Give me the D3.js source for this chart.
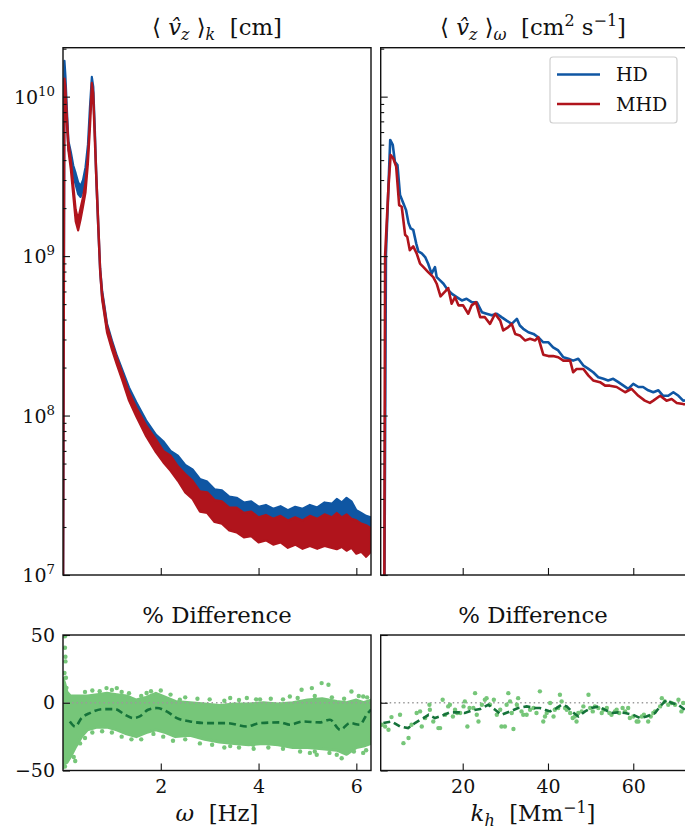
<!DOCTYPE html>
<html>
<head>
<meta charset="utf-8">
<script src="https://cdn.jsdelivr.net/npm/d3@7"></script>
<style>
  html, body { margin: 0; padding: 0; background: #fff; }
  svg text { font-family: "DejaVu Serif", serif; fill: #111; }
</style>
</head>
<body>
<div id="chart"></div>
<script>
// ---- data ----
// top-left: spectrum vs omega [Hz]; the noisy traces are kept as upper / lower envelopes
const omegaGrid = [0, 0.03, 0.05, 0.08, 0.11, 0.16, 0.21, 0.26, 0.31, 0.36, 0.41, 0.46, 0.51, 0.55, 0.59, 0.62, 0.65, 0.68, 0.72, 0.76,
  0.8, 0.9, 1.0, 1.1, 1.2, 1.35, 1.5, 1.7,
  1.9, 2.05, 2.2, 2.35, 2.5, 2.65, 2.8, 2.95, 3.1, 3.25, 3.4, 3.55, 3.7, 3.85, 4.0, 4.15, 4.3, 4.45, 4.6, 4.75, 4.9, 5.05, 5.2, 5.35, 5.5, 5.6, 5.7, 5.8, 5.9, 6.0, 6.1, 6.2, 6.3];
const hdOmegaHi = [3e6, 1.68e10, 1.35e10, 8.3e9, 5.3e9, 4.5e9, 3.7e9, 3.3e9, 2.9e9, 2.75e9, 3.0e9, 3.6e9, 5.0e9, 8.5e9, 1.33e10, 1.15e10, 6.6e9, 3.4e9, 1.65e9, 8.4e8,
  6.09e8, 3.78e8, 2.96e8, 2.38e8, 1.98e8, 1.50e8, 1.21e8, 9.34e7,
  7.6e7, 6.9e7, 6.0e7, 5.6e7, 4.9e7, 4.6e7, 4.0e7, 3.85e7, 3.45e7, 3.4e7, 3.1e7, 3.05e7, 2.85e7, 2.9e7, 2.68e7, 2.75e7, 2.6e7, 2.7e7, 2.55e7, 2.68e7, 2.6e7, 2.75e7, 2.65e7, 2.85e7, 2.8e7, 3.0e7, 2.85e7, 3.05e7, 2.9e7, 2.55e7, 2.45e7, 2.35e7, 2.3e7];
const hdOmegaLo = [3e6, 1.5e10, 1.2e10, 7.4e9, 4.7e9, 4.0e9, 3.2e9, 2.8e9, 2.45e9, 2.35e9, 2.6e9, 3.2e9, 4.5e9, 7.6e9, 1.2e10, 1.02e10, 5.9e9, 3.0e9, 1.5e9, 7.9e8,
  5.51e8, 3.47e8, 2.71e8, 2.18e8, 1.78e8, 1.34e8, 1.08e8, 8.09e7,
  6.6e7, 5.8e7, 5.2e7, 4.7e7, 4.0e7, 3.6e7, 3.25e7, 3.05e7, 2.9e7, 2.75e7, 2.6e7, 2.45e7, 2.37e7, 2.3e7, 2.24e7, 2.2e7, 2.17e7, 2.14e7, 2.11e7, 2.12e7, 2.14e7, 2.15e7, 2.17e7, 2.22e7, 2.27e7, 2.3e7, 2.3e7, 2.34e7, 2.25e7, 2.15e7, 2.08e7, 1.99e7, 1.93e7];
const mhdOmegaHi = [3e6, 1.3e10, 1.15e10, 7.5e9, 5.2e9, 4.0e9, 2.8e9, 1.95e9, 1.7e9, 2.0e9, 2.35e9, 2.9e9, 4.3e9, 7.0e9, 1.22e10, 1.05e10, 6.0e9, 3.4e9, 1.7e9, 8.4e8,
  5.92e8, 3.67e8, 2.87e8, 2.31e8, 1.89e8, 1.40e8, 1.12e8, 8.69e7,
  7.1e7, 6.0e7, 5.6e7, 4.8e7, 4.3e7, 3.9e7, 3.35e7, 3.3e7, 2.95e7, 2.9e7, 2.65e7, 2.65e7, 2.45e7, 2.5e7, 2.3e7, 2.38e7, 2.25e7, 2.35e7, 2.2e7, 2.3e7, 2.2e7, 2.35e7, 2.25e7, 2.4e7, 2.3e7, 2.45e7, 2.3e7, 2.4e7, 2.25e7, 2.2e7, 2.1e7, 2.05e7, 1.96e7];
const mhdOmegaLo = [3e6, 1.15e10, 1.02e10, 6.6e9, 4.6e9, 3.5e9, 2.4e9, 1.65e9, 1.45e9, 1.7e9, 2.05e9, 2.5e9, 3.8e9, 6.2e9, 1.1e10, 9.4e9, 5.3e9, 3.0e9, 1.5e9, 7.9e8,
  5.35e8, 3.32e8, 2.60e8, 2.09e8, 1.71e8, 1.24e8, 9.87e7, 7.42e7,
  5.9e7, 5.1e7, 4.5e7, 3.9e7, 3.3e7, 3.0e7, 2.5e7, 2.45e7, 2.15e7, 2.1e7, 1.9e7, 1.85e7, 1.72e7, 1.75e7, 1.6e7, 1.65e7, 1.55e7, 1.6e7, 1.48e7, 1.55e7, 1.46e7, 1.52e7, 1.46e7, 1.52e7, 1.48e7, 1.45e7, 1.5e7, 1.42e7, 1.48e7, 1.36e7, 1.40e7, 1.30e7, 1.40e7];

// top-right: spectrum vs k_h [Mm^-1], [k_h, value]
const hdKh = [[1.6, 5e6], [2.0, 1.04e9], [3.0, 5.35e9], [3.6, 4.98e9], [4.1, 3.91e9], [4.7, 3.73e9], [5.3, 2.42e9], [6.1, 2.14e9], [6.7, 1.95e9], [7.3, 1.61e9],
  [7.8, 1.49e9], [8.4, 1.46e9], [9.1, 1.20e9], [9.6, 1.07e9], [10.4, 1.04e9], [11.2, 9.86e8], [11.9, 8.96e8], [12.7, 7.76e8], [13.5, 8.53e8], [13.9, 7.38e8],
  [14.7, 7.04e8], [15.5, 6.71e8], [16.3, 6.25e8], [17.4, 5.81e8], [18.6, 5.53e8], [19.8, 5.27e8], [20.9, 5.40e8], [22.1, 5.14e8], [23.3, 5.14e8], [24.5, 4.45e8],
  [25.6, 4.35e8], [26.8, 4.25e8], [28.0, 4.35e8], [29.1, 4.14e8], [30.3, 3.94e8], [31.5, 3.76e8], [32.7, 4.04e8], [33.4, 3.67e8], [34.2, 3.50e8], [35.4, 3.33e8],
  [36.6, 3.25e8], [37.7, 3.10e8], [38.9, 2.88e8], [40.1, 2.88e8], [41.2, 2.68e8], [42.4, 2.56e8], [43.6, 2.32e8], [44.8, 2.27e8], [45.9, 2.21e8], [47.1, 2.27e8],
  [48.3, 2.06e8], [49.5, 1.96e8], [50.6, 1.87e8], [51.8, 1.74e8], [53.0, 1.70e8], [54.1, 1.66e8], [55.3, 1.70e8], [56.5, 1.62e8], [57.7, 1.54e8], [58.8, 1.47e8],
  [60.0, 1.58e8], [61.2, 1.51e8], [62.3, 1.51e8], [63.5, 1.44e8], [64.7, 1.40e8], [65.9, 1.44e8], [67.0, 1.33e8], [68.2, 1.33e8], [69.4, 1.40e8], [70.6, 1.33e8],
  [71.7, 1.24e8], [73.0, 1.25e8]];
const mhdKh = [[1.6, 5e6], [1.8, 1.0e9], [2.6, 2.72e9], [3.1, 4.31e9], [3.7, 4.11e9], [4.4, 3.64e9], [5.1, 2.09e9], [5.7, 2.04e9], [6.5, 1.36e9], [7.0, 1.32e9],
  [7.6, 1.09e9], [8.4, 1.15e9], [9.2, 1.04e9], [10.0, 8.96e8], [10.8, 8.53e8], [11.9, 7.94e8], [13.1, 7.38e8], [13.9, 6.71e8], [14.8, 5.59e8], [15.9, 6.00e8],
  [16.6, 6.30e8], [17.4, 5.03e8], [18.2, 5.53e8], [19.0, 4.91e8], [20.1, 4.91e8], [21.3, 4.35e8], [22.1, 4.91e8], [23.1, 5.14e8], [24.1, 4.14e8], [25.2, 4.14e8],
  [26.4, 3.76e8], [27.6, 4.35e8], [28.8, 3.94e8], [29.5, 3.42e8], [30.7, 3.59e8], [31.5, 3.76e8], [32.3, 3.25e8], [33.4, 3.18e8], [34.6, 2.96e8], [35.8, 3.03e8],
  [37.0, 2.96e8], [37.7, 3.10e8], [38.9, 2.41e8], [40.1, 2.36e8], [41.2, 2.36e8], [42.4, 2.32e8], [43.6, 2.21e8], [45.2, 2.21e8], [45.9, 1.87e8], [46.7, 1.96e8],
  [48.3, 1.96e8], [49.5, 1.78e8], [50.6, 1.66e8], [52.2, 1.62e8], [53.4, 1.54e8], [54.5, 1.54e8], [56.1, 1.51e8], [58.1, 1.40e8], [59.6, 1.47e8], [61.2, 1.33e8],
  [62.7, 1.24e8], [63.9, 1.20e8], [64.7, 1.24e8], [66.3, 1.33e8], [67.8, 1.24e8], [69.0, 1.27e8], [70.2, 1.20e8], [71.7, 1.18e8], [73.0, 1.17e8]];

// bottom-left: % difference vs omega — dense cloud kept as its envelope + stray points + running mean
const diffOmegaGrid = [0.0, 0.03, 0.08, 0.15, 0.25, 0.38, 0.5, 0.7, 0.9, 1.1, 1.3, 1.5, 1.7, 1.9, 2.1, 2.3, 2.6, 2.9, 3.2, 3.5, 3.8, 4.1, 4.4, 4.7, 5.0, 5.3, 5.6, 5.8, 6.0, 6.15, 6.3];
const diffOmegaTop = [18, 15, 8, 5, 5, 5, 5, 6, 7, 6, 5, 2, 4, 7, 4, 1, 0, -1, -2, -1, -1, 0, -1, 0, 2, 3, 1, 0, 2, 0, 2];
const diffOmegaBottom = [-48, -45, -44, -40, -33, -25, -20, -18, -18, -20, -23, -25, -22, -20, -22, -25, -24, -27, -29, -30, -31, -30, -31, -33, -33, -34, -35, -38, -33, -32, -30];
const diffOmegaStray = [[0.04, 49], [0.04, 40.6], [0.05, 34], [0.05, 30.5], [0.03, 22], [0.06, 18.5], [0.07, 11], [0.04, -47], [0.05, -42], [0.25, -43], [0.22, -40],
  [0.89, 10.8], [1.10, 10.8], [1.71, 7.2], [1.92, 4.6], [2.39, 2.2], [3.42, 3.5], [3.76, 3.5], [4.03, 2.5], [4.64, 4.6], [4.88, 9.6], [5.09, 10.8], [5.29, 14.5],
  [5.43, 13.3], [5.90, 8.3], [6.14, 4.6], [1.44, -23.6], [3.42, -32], [3.89, -31], [5.05, -37], [5.19, -38.4], [5.60, -38.4], [5.80, -37], [6.14, -37],
  [0.45, 8], [0.6, 9], [0.75, 8.5], [1.0, 9.5], [1.2, 8], [1.35, 7], [1.6, 5], [1.8, 8.5], [2.0, 9], [2.2, 6], [2.5, 4], [2.75, 3], [3.0, 2.5], [3.3, 1.5],
  [3.6, 2], [3.95, 2.5], [4.25, 3], [4.5, 2.5], [4.8, 3.5], [5.15, 5], [5.5, 4], [5.75, 3], [6.05, 5], [6.22, 4],
  [0.35, -30], [0.45, -26], [0.6, -22], [0.8, -21], [1.0, -22], [1.2, -25], [1.4, -27], [1.6, -27], [1.85, -23], [2.05, -25], [2.25, -28], [2.5, -27],
  [2.8, -30], [3.05, -31], [3.3, -33], [3.6, -33], [3.9, -34], [4.2, -33], [4.5, -34], [4.85, -36], [5.15, -36], [5.45, -37], [5.7, -41], [5.95, -36], [6.2, -35]];
const diffOmegaMean = [[0.14, -13.8], [0.25, -17.5], [0.38, -11.3], [0.55, -7.6], [0.82, -4.7], [1.06, -4.7], [1.27, -8.9], [1.44, -11.3], [1.57, -10.1], [1.74, -5.2],
  [1.92, -3.9], [2.12, -6.4], [2.33, -11.3], [2.60, -13.8], [2.94, -15], [3.35, -15], [3.76, -17.5], [4.03, -15], [4.44, -14.5], [4.64, -16.2], [4.91, -13.8],
  [5.25, -14.5], [5.46, -12.5], [5.67, -19.9], [5.87, -15], [6.07, -16.2], [6.21, -8.9], [6.3, -5]];

// bottom-right: % difference vs k_h
const diffKh = [[1.0, -16.2], [1.8, -17.5], [2.6, -19.9], [3.3, -10.6], [5.3, -8.9], [6.1, -29.8], [7.3, -26], [8.0, -16.2], [9.2, -7.6], [10.0, -6.4],
  [10.4, -17.5], [11.2, -11.3], [12.2, -1.5], [12.3, -5.2], [13.1, -13.8], [14.3, -18.7], [14.7, -18.7], [15.3, 2.2], [15.9, -8.9], [16.6, -2.7],
  [17.0, -1.5], [17.7, -10.1], [18.2, -5.2], [18.7, -7.6], [19.4, -7.6], [20.2, -2.7], [20.5, 1.0], [21.1, -17.5], [21.6, -3.9], [22.5, -3.9],
  [22.9, 7.1], [23.3, -8.9], [23.7, -13.8], [24.5, -1.5], [25.2, 2.2], [25.6, 3.4], [26.4, -1.5], [27.3, 2.2], [28.0, -8.9], [28.8, -5.2],
  [29.1, -17.5], [29.9, -17.5], [30.3, -1.5], [30.7, 7.1], [31.1, 1.0], [31.5, -7.6], [31.9, -19.4], [32.7, -1.5], [33.0, 3.4], [33.8, -6.4],
  [34.2, -8.9], [35.0, -8.9], [35.8, -5.2], [36.6, -3.9], [37.3, -7.6], [38.1, 8.4], [38.9, -13.8], [39.3, -10.1], [39.7, -7.6], [40.5, -0.2],
  [41.3, -10.1], [41.6, -5.2], [42.4, -3.9], [42.8, 5.9], [43.2, 1.0], [44.0, -3.9], [44.4, -5.2], [45.2, -7.6], [45.8, -11.3], [46.3, -10.1],
  [46.7, -13.8], [47.1, -7.6], [47.9, -6.4], [48.3, -2.7], [49.5, 5.9], [49.9, -3.9], [50.5, -6.4], [51.0, -2.7], [51.8, -3.9], [52.6, -7.6],
  [53.0, -5.2], [53.8, -3.9], [54.4, -7.6], [54.9, -8.9], [55.7, -6.4], [56.1, -5.2], [56.7, -7.6], [57.5, -3.9], [58.1, -6.4], [58.8, -3.9],
  [59.2, -11.3], [60.0, -10.1], [60.8, -13.8], [61.2, -13.8], [62.0, -10.1], [62.5, -8.9], [63.5, -13.8], [64.1, -10.1], [64.7, -7.6], [65.1, -6.4],
  [66.3, -2.7], [66.7, 3.4], [67.4, 1.0], [68.2, -1.5], [69.0, -0.2], [69.8, -1.5], [70.6, 2.2], [71.3, -6.4], [71.7, -0.2]];
const diffKhMean = [[1.4, -15], [3.3, -13.8], [5.3, -17.5], [7.2, -18.7], [8.8, -15], [10.8, -11.3], [12.0, -8.9], [13.5, -11.3], [14.7, -10.1], [17.0, -7.1],
  [19.0, -7.1], [20.5, -7.6], [22.1, -5.7], [24.1, -4.7], [26.0, -1.5], [27.6, -5.2], [29.1, -8.9], [31.1, -6.4], [33.0, -3.9], [35.0, -2.7],
  [36.9, -3.9], [38.1, -3.9], [39.3, -5.2], [40.5, -6.4], [42.0, -3.9], [43.2, -1.5], [44.4, -2.7], [45.6, -6.4], [47.1, -10.1], [48.7, -6.4],
  [50.2, -3.9], [51.8, -2.7], [53.4, -5.2], [54.9, -7.6], [56.5, -7.1], [58.1, -7.6], [60.0, -8.9], [61.6, -11.3], [63.1, -10.1], [65.1, -7.6],
  [66.3, -2.7], [67.8, 2.2], [69.0, -0.2], [70.6, -1.5], [72.1, -5.2]];

const omegaTicks = [2, 4, 6];
const khTicks = [20, 40, 60];
const logTicks = [1e7, 1e8, 1e9, 1e10];
const diffTicks = [-50, 0, 50];
const seriesNames = ["HD", "MHD"];

// ---- style ----
const COL = { hd: "#0f56a3", mhd: "#b0141c", cloud: "#76c679", mean: "#15733a", zero: "#9a9a9a" };
const FS = 19;          // ticks, legend
const FS_BIG = 22.8;    // titles, axis labels
const SP = "\u00A0";

const W = 685, H = 830;
const svg = d3.select("#chart").append("svg").attr("width", W).attr("height", H);

const LX = [63, 371], RX = [380.7, 688.7];
const TY = [47.7, 575], BY = [635, 770.5];

const xW = d3.scaleLinear().domain([0, 6.3]).range(LX);
const xK = d3.scaleLinear().domain([0.77, 73]).range(RX);
const yLog = d3.scaleLog().domain([1e7, Math.pow(10, 10.307)]).range([TY[1], TY[0]]);
const yPct = d3.scaleLinear().domain([-50, 50]).range([BY[1], BY[0]]);

const defs = svg.append("defs");
function clipped(id, xr, yr) {
  defs.append("clipPath").attr("id", id).append("rect")
    .attr("x", xr[0]).attr("y", yr[0]).attr("width", xr[1] - xr[0]).attr("height", yr[1] - yr[0]);
  return svg.append("g").attr("clip-path", `url(#${id})`);
}

// math-ish text: parts = [{t, it, sub, sup}]
function mathText(x, y, parts, fs, anchor = "middle") {
  const t = svg.append("text").attr("x", x).attr("y", y).attr("text-anchor", anchor).attr("font-size", fs);
  let off = 0;
  for (const p of parts) {
    const s = t.append("tspan").text(p.t);
    const want = p.sub ? fs * 0.22 : p.sup ? -fs * 0.36 : 0;
    if (want !== off) { s.attr("dy", want - off); off = want; }
    if (p.it) s.attr("font-style", "italic");
    if (p.sub || p.sup) s.attr("font-size", fs * 0.7);
  }
  return t;
}

function styleAxis(g) {
  g.select(".domain").remove();
  g.selectAll(".tick line").attr("stroke", "#111").attr("stroke-width", 1.1);
  g.selectAll(".tick text").attr("font-size", FS).attr("font-family", "DejaVu Serif").attr("fill", "#111");
}

function logMinor() {
  const out = [];
  for (let e = 7; e <= 10; e++) for (let m = 2; m <= 9; m++) { const v = m * Math.pow(10, e); if (v <= yLog.domain()[1]) out.push(v); }
  return out;
}

function yLogAxis(x0, labels) {
  const maj = svg.append("g").attr("transform", `translate(${x0},0)`)
    .call(d3.axisLeft(yLog).tickValues(logTicks).tickSizeInner(-7).tickSizeOuter(0).tickPadding(8).tickFormat(""));
  styleAxis(maj);
  if (labels) {
    maj.selectAll(".tick text").each(function (d) {
      const t = d3.select(this).attr("dy", "0.36em");
      t.append("tspan").text("10");
      t.append("tspan").attr("dy", -8).attr("font-size", FS * 0.7).text(Math.round(Math.log10(d)));
    });
  }
  const mn = svg.append("g").attr("transform", `translate(${x0},0)`)
    .call(d3.axisLeft(yLog).tickValues(logMinor()).tickSizeInner(-3.5).tickSizeOuter(0).tickFormat(""));
  styleAxis(mn);
}

function xAxis(scale, ticks, y, labels) {
  const g = svg.append("g").attr("transform", `translate(0,${y})`)
    .call(d3.axisBottom(scale).tickValues(ticks).tickSizeInner(-7).tickSizeOuter(0).tickPadding(9)
      .tickFormat(labels ? d3.format("d") : ""));
  styleAxis(g);
  g.selectAll(".tick text").attr("dy", "0.71em");
}

function pctAxis(x0, labels) {
  const g = svg.append("g").attr("transform", `translate(${x0},0)`)
    .call(d3.axisLeft(yPct).tickValues(diffTicks).tickSizeInner(-7).tickSizeOuter(0).tickPadding(8)
      .tickFormat(labels ? (d => d < 0 ? "\u2212" + Math.abs(d) : d) : ""));
  styleAxis(g);
}

function frame(xr, yr) {
  svg.append("rect").attr("x", xr[0]).attr("y", yr[0]).attr("width", xr[1] - xr[0]).attr("height", yr[1] - yr[0])
    .attr("fill", "none").attr("stroke", "#111").attr("stroke-width", 1.4);
}

// ---- top-left: envelopes of the omega spectra ----
const gTL = clipped("cTL", LX, TY);
const band = (hi, lo) => omegaGrid.map((w, i) => ({ w, hi: hi[i], lo: lo[i] }));
const envArea = d3.area().x(d => xW(d.w)).y0(d => yLog(d.lo)).y1(d => yLog(d.hi));
[[hdOmegaHi, hdOmegaLo, COL.hd], [mhdOmegaHi, mhdOmegaLo, COL.mhd]].forEach(([hi, lo, c]) => {
  gTL.append("path").datum(band(hi, lo)).attr("d", envArea)
    .attr("fill", c).attr("stroke", c).attr("stroke-width", 2.2).attr("stroke-linejoin", "round");
});

// ---- top-right: k_h spectra ----
const gTR = clipped("cTR", RX, TY);
const kLine = d3.line().x(d => xK(d[0])).y(d => yLog(d[1]));
[[hdKh, COL.hd], [mhdKh, COL.mhd]].forEach(([s, c]) => {
  gTR.append("path").datum(s).attr("d", kLine).attr("fill", "none").attr("stroke", c)
    .attr("stroke-width", 2.6).attr("stroke-linejoin", "round");
});

// ---- bottom-left: % difference vs omega ----
const gBL = clipped("cBL", LX, BY);
gBL.append("path").datum(diffOmegaGrid.map((w, i) => ({ w, hi: diffOmegaTop[i], lo: diffOmegaBottom[i] })))
  .attr("d", d3.area().x(d => xW(d.w)).y0(d => yPct(d.lo)).y1(d => yPct(d.hi)))
  .attr("fill", COL.cloud).attr("stroke", COL.cloud).attr("stroke-width", 3).attr("stroke-linejoin", "round");
gBL.selectAll("circle").data(diffOmegaStray).join("circle")
  .attr("cx", d => xW(d[0])).attr("cy", d => yPct(d[1])).attr("r", 2.2).attr("fill", COL.cloud);
gBL.append("line").attr("x1", LX[0]).attr("x2", LX[1]).attr("y1", yPct(0)).attr("y2", yPct(0))
  .attr("stroke", COL.zero).attr("stroke-width", 1.4).attr("stroke-dasharray", "1.5 3");
gBL.append("path").datum(diffOmegaMean).attr("d", d3.line().curve(d3.curveMonotoneX).x(d => xW(d[0])).y(d => yPct(d[1])))
  .attr("fill", "none").attr("stroke", COL.mean).attr("stroke-width", 2.6).attr("stroke-dasharray", "7 4");

// ---- bottom-right: % difference vs k_h ----
const gBR = clipped("cBR", RX, BY);
gBR.append("line").attr("x1", RX[0]).attr("x2", RX[1]).attr("y1", yPct(0)).attr("y2", yPct(0))
  .attr("stroke", COL.zero).attr("stroke-width", 1.4).attr("stroke-dasharray", "1.5 3");
gBR.selectAll("circle").data(diffKh).join("circle")
  .attr("cx", d => xK(d[0])).attr("cy", d => yPct(d[1])).attr("r", 2.2).attr("fill", COL.cloud);
gBR.append("path").datum(diffKhMean).attr("d", d3.line().x(d => xK(d[0])).y(d => yPct(d[1])))
  .attr("fill", "none").attr("stroke", COL.mean).attr("stroke-width", 2.6).attr("stroke-dasharray", "7 4");

// ---- axes & frames ----
yLogAxis(LX[0], true);
yLogAxis(RX[0], false);
xAxis(xW, omegaTicks, TY[1], false);
xAxis(xK, khTicks, TY[1], false);
xAxis(xW, omegaTicks, BY[1], true);
xAxis(xK, khTicks, BY[1], true);
pctAxis(LX[0], true);
pctAxis(RX[0], false);
frame(LX, TY); frame(RX, TY); frame(LX, BY); frame(RX, BY);

// ---- titles ----
const cL = (LX[0] + LX[1]) / 2, cR = 533;
mathText(cL, 34.5, [{ t: "\u27E8" + SP }, { t: "v\u0302", it: true }, { t: "z", it: true, sub: true }, { t: SP + "\u27E9" }, { t: "k", it: true, sub: true }, { t: SP + SP + "[cm]" }], FS_BIG);
mathText(cR, 34.5, [{ t: "\u27E8" + SP }, { t: "v\u0302", it: true }, { t: "z", it: true, sub: true }, { t: SP + "\u27E9" }, { t: "\u03C9", it: true, sub: true },
  { t: SP + SP + "[cm" }, { t: "2", sup: true }, { t: SP + "s" }, { t: "\u22121", sup: true }, { t: "]" }], FS_BIG);
mathText(cL, 623, [{ t: "% Difference" }], FS_BIG);
mathText(cR, 623, [{ t: "% Difference" }], FS_BIG);
mathText(cL, 821, [{ t: "\u03C9", it: true }, { t: SP + SP + "[Hz]" }], FS_BIG);
mathText(cR, 821, [{ t: "k", it: true }, { t: "h", it: true, sub: true }, { t: SP + SP + "[Mm" }, { t: "\u22121", sup: true }, { t: "]" }], FS_BIG);

// ---- legend ----
const lg = svg.append("g");
lg.append("rect").attr("x", 550).attr("y", 57).attr("width", 127).attr("height", 66).attr("rx", 3)
  .attr("fill", "#fff").attr("fill-opacity", 0.8).attr("stroke", "#cfcfcf").attr("stroke-width", 1.2);
seriesNames.forEach((name, i) => {
  const y = 74.5 + i * 29.5;
  lg.append("line").attr("x1", 557).attr("x2", 600).attr("y1", y).attr("y2", y)
    .attr("stroke", i ? COL.mhd : COL.hd).attr("stroke-width", 2.6);
  lg.append("text").attr("x", 616).attr("y", y).attr("dy", "0.35em").attr("font-size", FS).text(name);
});
</script>
</body>
</html>
